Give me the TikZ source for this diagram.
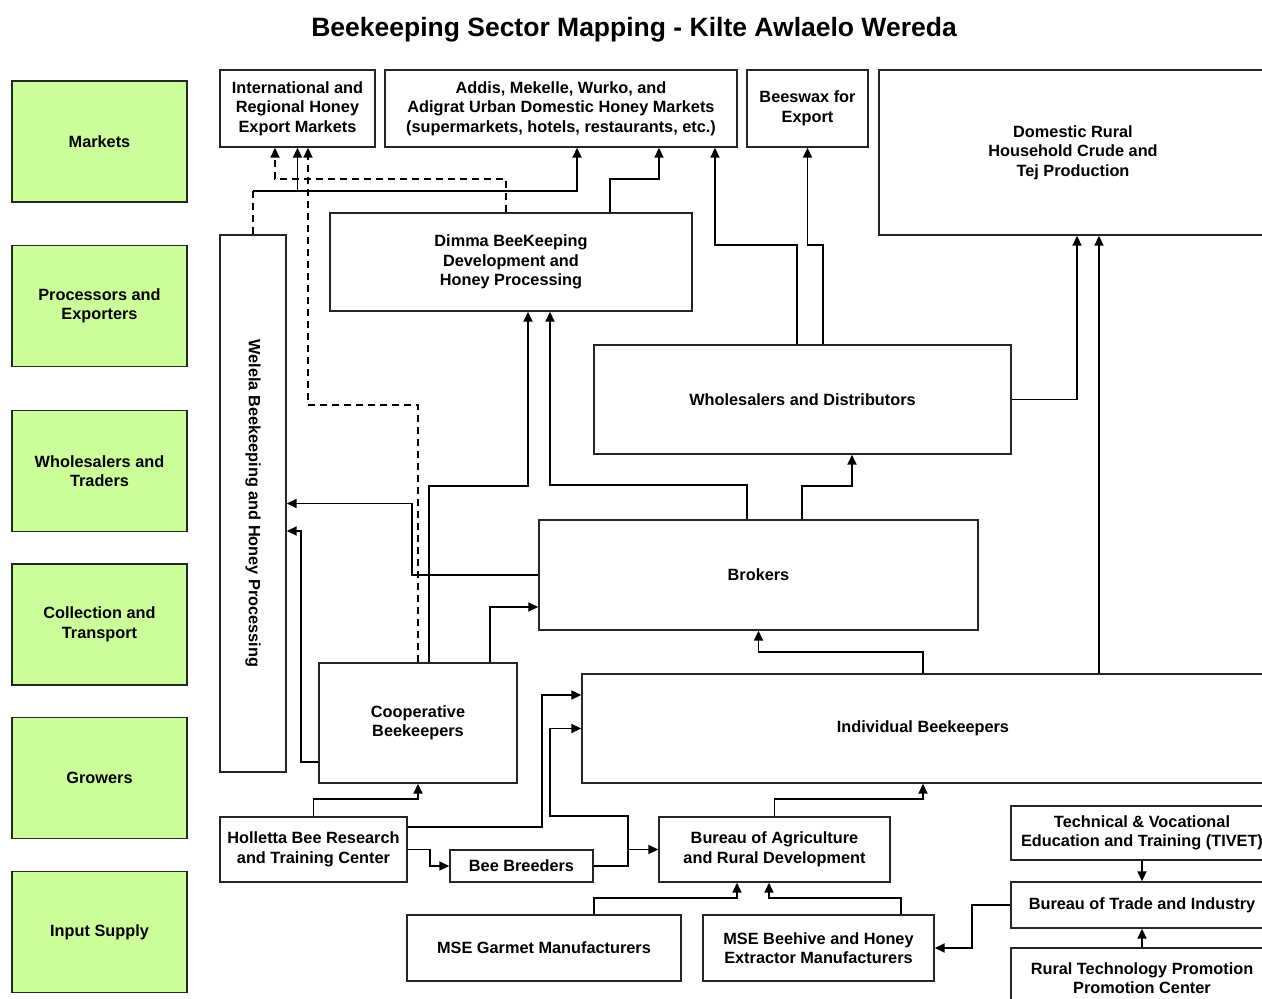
\documentclass[tikz,border=0pt]{standalone}
\usepackage{fontspec}
\setmainfont{Liberation Sans}
\usetikzlibrary{arrows.meta}
\definecolor{leafgreen}{HTML}{CCFF99}

\begin{document}
\begin{tikzpicture}[
  x=1pt, y=-1pt,
  box/.style={draw=black!85, line width=1.4pt, fill=white, align=center,
              font=\bfseries\fontsize{16.3}{19.5}\selectfont, inner sep=2pt},
  tier/.style={box, fill=leafgreen, minimum width=175pt, minimum height=121pt},
  arr/.style={-{Triangle[length=10pt,width=9pt]}, line width=1.8pt},
  dsh/.style={line width=1.8pt, dash pattern=on 7pt off 5pt},
  dsharr/.style={arr, dsh}
]
\clip (0,0) rectangle (1262,999);
\fill[white] (0,0) rectangle (1262,999);
\node[font=\bfseries\fontsize{26.5}{32}\selectfont] (title) at (634,30) {Beekeeping Sector Mapping - Kilte Awlaelo Wereda};

\node[tier] (mkt) at (99.5,141.5) {Markets};
\node[tier] (proc) at (99.5,306) {Processors and\\Exporters};
\node[tier] (trd) at (99.5,471) {Wholesalers and\\Traders};
\node[tier] (coll) at (99.5,624.5) {Collection and\\Transport};
\node[tier] (grow) at (99.5,778) {Growers};
\node[tier] (inp) at (99.5,932) {Input Supply};

\node[box, minimum width=155pt, minimum height=77pt] (intl) at (297.5,108.5) {International and\\Regional Honey\\Export Markets};
\node[box, minimum width=352pt, minimum height=77pt] (addis) at (561,108.5) {Addis, Mekelle, Wurko, and\\Adigrat Urban Domestic Honey Markets\\(supermarkets, hotels, restaurants, etc.)};
\node[box, minimum width=121pt, minimum height=77pt] (wax) at (807.5,108.5) {Beeswax for\\Export};
\node[box, minimum width=388pt, minimum height=165pt] (dom) at (1073,152.5) {Domestic Rural\\Household Crude and\\Tej Production};
\node[box, rotate=-90, minimum width=537pt, minimum height=66pt] (welela) at (253,503.5) {Welela Beekeeping and Honey Processing};
\node[box, minimum width=362pt, minimum height=98pt] (dimma) at (511,262) {Dimma BeeKeeping\\Development and\\Honey Processing};
\node[box, minimum width=417pt, minimum height=109pt] (whd) at (802.5,399.5) {Wholesalers and Distributors};
\node[box, minimum width=439pt, minimum height=110pt] (brk) at (758.5,575) {Brokers};
\node[box, minimum width=198pt, minimum height=120pt] (coop) at (418,723) {Cooperative\\Beekeepers};
\node[box, minimum width=682pt, minimum height=109pt] (indiv) at (923,728.5) {Individual Beekeepers};
\node[box, minimum width=187pt, minimum height=65pt] (holl) at (313.5,849.5) {Holletta Bee Research\\and Training Center};
\node[box, minimum width=143pt, minimum height=32pt] (breed) at (521.5,866) {Bee Breeders};
\node[box, minimum width=231pt, minimum height=65pt] (bard) at (774.5,849.5) {Bureau of Agriculture\\and Rural Development};
\node[box, minimum width=274pt, minimum height=66pt] (garm) at (544,948) {MSE Garmet Manufacturers};
\node[box, minimum width=231pt, minimum height=66pt] (hive) at (818.5,948) {MSE Beehive and Honey\\Extractor Manufacturers};
\node[box, minimum width=262pt, minimum height=54pt] (tivet) at (1142,833) {Technical \& Vocational\\Education and Training (TIVET)};
\node[box, minimum width=262pt, minimum height=46pt] (trade) at (1142,905) {Bureau of Trade and Industry};
\node[box, minimum width=262pt, minimum height=60pt] (rtpc) at (1142,978) {Rural Technology Promotion\\Promotion Center};

\coordinate (wj) at (253,191);
\draw[dsh] (welela.west) -- (wj);
\draw[arr] (wj) -| (intl.south);
\draw[arr] (wj) -| ([xshift=16pt]addis.south);
\draw[dsharr] ([xshift=-5pt]dimma.north) -- ++(0,-33) -| ([xshift=-22.5pt]intl.south);
\draw[dsharr] (coop.north) |- (308,405) -- ([xshift=10.5pt]intl.south);
\draw[arr] ([xshift=99pt]dimma.north) -- ++(0,-33) -| ([xshift=98pt]addis.south);
\draw[arr] ([xshift=-5.5pt]whd.north) -- ++(0,-99) -| ([xshift=154pt]addis.south);
\draw[arr] ([xshift=20.5pt]whd.north) -- ++(0,-99) -| (wax.south);
\draw[arr] (whd.east) -| ([xshift=4pt]dom.south);
\draw[arr] ([xshift=176pt]indiv.north) -- ([xshift=26pt]dom.south);
\draw[arr] ([xshift=11pt]coop.north) -- ++(0,-176) -| ([xshift=17pt]dimma.south);
\draw[arr] ([xshift=-11.5pt]brk.north) -- ++(0,-34) -| ([xshift=39pt]dimma.south);
\draw[arr] ([xshift=43.5pt]brk.north) -- ++(0,-33) -| ([xshift=49.5pt]whd.south);
\draw[arr] (brk.west) -- ++(-126,0) |- (welela.north);
\draw[arr] ([yshift=-39pt]coop.west) -- ++(-17,0) |- ([yshift=-27.5pt]welela.north);
\draw[arr] ([xshift=72pt]coop.north) |- ([yshift=-32pt]brk.west);
\draw[arr] (indiv.north) -- ++(0,-21) -| (brk.south);
\draw[arr] (holl.north) -- ++(0,-17) -| (coop.south);
\draw[arr] ([yshift=22.5pt]holl.east) -- ++(134,0) |- ([yshift=33.5pt]indiv.west);
\draw[arr] (holl.east) -- ++(22,0) |- (breed.west);
\draw[arr] (breed.east) -- ++(34,0) |- (bard.west);
\draw[arr] (breed.east) -- ++(34,0) |- (550,816) |- (indiv.west);
\draw[arr] (bard.north) -- ++(0,-17) -| (indiv.south);
\draw[arr] ([xshift=50pt]garm.north) -- ++(0,-16) -| ([xshift=-37.5pt]bard.south);
\draw[arr] ([xshift=82.5pt]hive.north) -- ++(0,-16) -| ([xshift=-5.5pt]bard.south);
\draw[arr] (trade.west) -- ++(-38,0) |- (hive.east);
\draw[arr] (tivet.south) -- (trade.north);
\draw[arr] (rtpc.north) -- (trade.south);
\end{tikzpicture}
\end{document}
